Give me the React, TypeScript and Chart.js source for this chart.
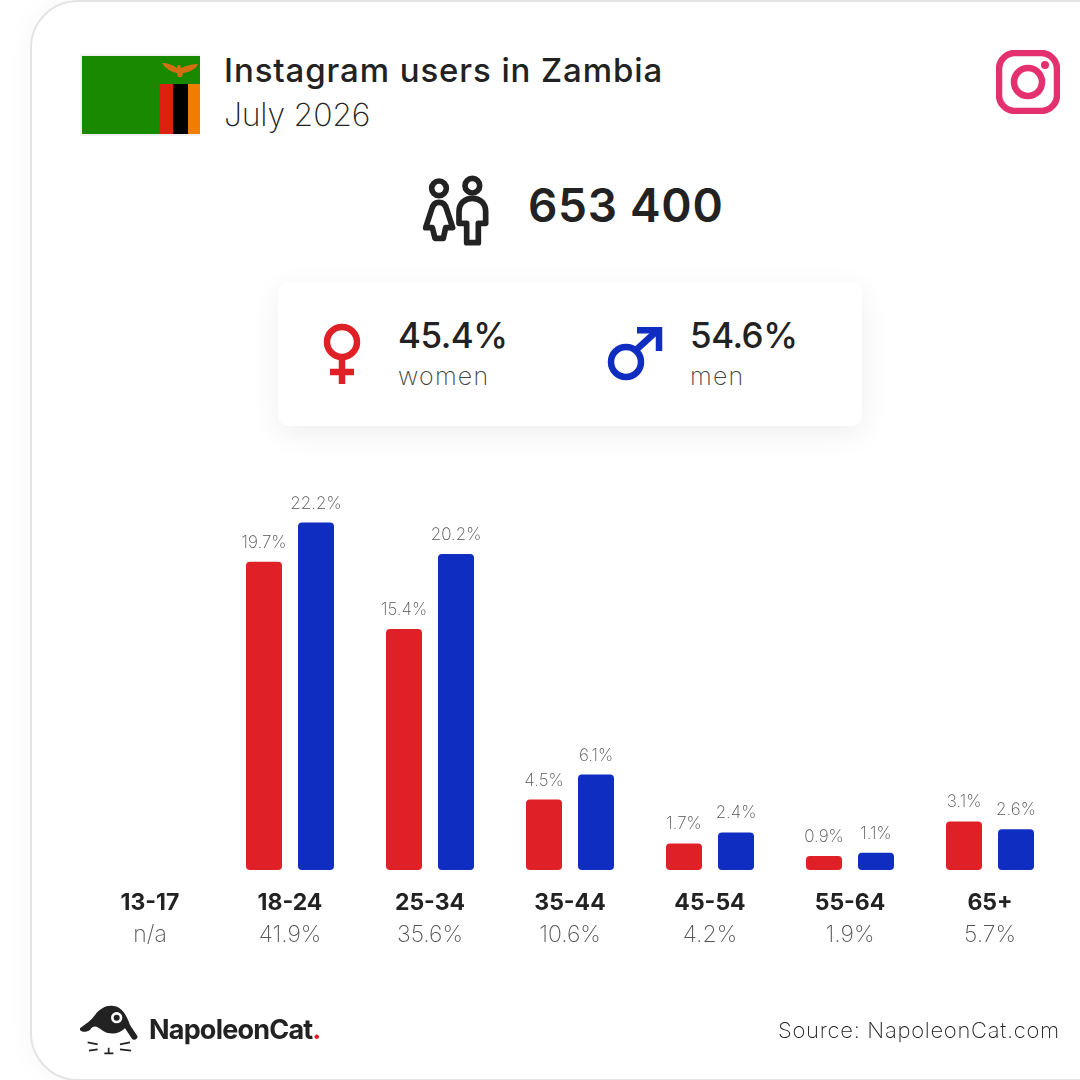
import React, { useEffect, useRef } from "react";
import { Chart, registerables } from "chart.js";

Chart.register(...registerables);

const categories = ["13-17", "18-24", "25-34", "35-44", "45-54", "55-64", "65+"];
const totals = ["n/a", "41.9%", "35.6%", "10.6%", "4.2%", "1.9%", "5.7%"];
const women = [null, 19.7, 15.4, 4.5, 1.7, 0.9, 3.1];
const men = [null, 22.2, 20.2, 6.1, 2.4, 1.1, 2.6];
const RED = "#df2027";
const BLUE = "#0f2dc0";
const DARK = "#222222";
const FONT = "Inter, 'Open Sans', sans-serif";

const labelPlugin = {
  id: "labels",
  afterDatasetsDraw(chart: any) {
    const { ctx, scales } = chart;
    ctx.save();
    ctx.textAlign = "center";
    ctx.textBaseline = "alphabetic";
    chart.data.datasets.forEach((ds: any, i: number) => {
      const meta = chart.getDatasetMeta(i);
      meta.data.forEach((bar: any, j: number) => {
        const v = ds.data[j];
        if (v == null) return;
        ctx.font = `200 17px ${FONT}`;
        ctx.fillStyle = "#555555";
        ctx.fillText(`${v.toFixed(1)}%`, bar.x, bar.y - 14);
      });
    });
    categories.forEach((c, i) => {
      const x = scales.x.getPixelForValue(i);
      ctx.font = `700 23px ${FONT}`;
      ctx.fillStyle = DARK;
      ctx.fillText(c, x, 910);
      ctx.font = `200 23px ${FONT}`;
      ctx.fillStyle = "#555555";
      ctx.fillText(totals[i], x, 942);
    });
    ctx.restore();
  },
};

function T({ x, y, size, weight, color = DARK, children, ls = 0 }: any) {
  return (
    <div
      style={{
        position: "absolute",
        left: x,
        top: y,
        fontFamily: FONT,
        fontSize: size,
        fontWeight: weight,
        color,
        lineHeight: 1,
        whiteSpace: "nowrap",
        letterSpacing: ls,
      }}
    >
      {children}
    </div>
  );
}

export default function App() {
  const ref = useRef<HTMLCanvasElement>(null);
  useEffect(() => {
    const chart = new Chart(ref.current!, {
      type: "bar",
      data: {
        labels: categories,
        datasets: [
          { label: "women", data: women, backgroundColor: RED, borderRadius: 4, borderSkipped: false },
          { label: "men", data: men, backgroundColor: BLUE, borderRadius: 4, borderSkipped: false },
        ],
      } as any,
      options: {
        animation: false,
        responsive: false,
        devicePixelRatio: 1,
        layout: { padding: { left: 80, right: 20, top: 478, bottom: 210 } },
        plugins: { legend: { display: false }, tooltip: { enabled: false } },
        datasets: { bar: { barPercentage: 36 / 52, categoryPercentage: 104 / 140 } },
        scales: {
          x: { display: false },
          y: { display: false, min: 0, max: 25.05 },
        },
      } as any,
      plugins: [labelPlugin],
    });
    return () => chart.destroy();
  }, []);

  return (
    <div style={{ position: "fixed", left: 0, top: 0, width: 1080, height: 1080, background: "#fff", overflow: "hidden" }}>
      <div
        style={{
          position: "absolute",
          left: 30,
          top: 0,
          width: 1100,
          height: 1077,
          border: "2px solid #e4e4e4",
          borderRadius: 48,
          boxSizing: "content-box",
          background: "#fff",
          boxShadow: "0 0 30px rgba(0,0,0,0.04)",
        }}
      />
      <svg style={{ position: "absolute", left: 80, top: 54 }} width={120} height={82} viewBox="80 54 120 82">
        <rect x={80} y={54} width={120} height={82} fill="#f1f1f1" />
        <rect x={82} y={56} width={118} height={78} fill="#198a00" />
        <rect x={159} y={84} width={14} height={50} fill="#de2010" />
        <rect x={173} y={84} width={15} height={50} fill="#000" />
        <rect x={188} y={84} width={12} height={50} fill="#ef7d00" />
        <path d="M162 63 C168 63 173 65 177 68 L178 65 L180 65 L181 68 C186 66 192 64 198 64 C196 69 190 72 183 73 L182 77 L178 77 L177 73 C171 72 165 68 162 63Z" fill="#d56e10" />
      </svg>
      <T x={224} y={54} size={33} weight={500} ls={0.9}>Instagram users in Zambia</T>
      <T x={224} y={99} size={32} weight={200} color="#222" ls={-0.2}>July 2026</T>

      <svg style={{ position: "absolute", left: 996, top: 50 }} width={64} height={64} viewBox="0 0 64 64" fill="none" stroke="#e4306f" strokeWidth={6.5}>
        <rect x={3} y={3} width={58} height={58} rx={16} />
        <circle cx={32} cy={32} r={14} />
        <circle cx={49} cy={15} r={4} fill="#e4306f" stroke="none" />
      </svg>

      <svg style={{ position: "absolute", left: 415, top: 170 }} width={80} height={80} viewBox="0 0 240 240" fill="none" stroke={DARK} strokeWidth={17} strokeLinejoin="round">
        <circle cx={72} cy={55} r={22} />
        <circle cx={172} cy={47} r={22} />
        <path d="M72 97 C85 97 92 105 95 118 L113 173 L92 173 L85 205 L60 205 L52 173 L32 173 L50 118 C53 105 60 97 72 97Z" />
        <path d="M172 85 C195 85 212 100 212 125 L212 160 L190 160 L190 218 L155 218 L155 160 L132 160 L132 125 C132 100 150 85 172 85Z" />
      </svg>
      <T x={528} y={182} size={46} weight={600} ls={0.7}>653 400</T>

      <div
        style={{
          position: "absolute",
          left: 278,
          top: 282,
          width: 584,
          height: 144,
          borderRadius: 10,
          background: "#fff",
          boxShadow: "0 8px 30px rgba(0,0,0,0.07)",
        }}
      />
      <svg style={{ position: "absolute", left: 310, top: 315 }} width={60} height={75} viewBox="310 315 60 75" fill="none" stroke={RED} strokeWidth={6.5}>
        <circle cx={342} cy={342} r={15} />
        <path d="M342 357 L342 384 M330 372 L354 372" />
      </svg>
      <svg style={{ position: "absolute", left: 600, top: 320 }} width={70} height={65} viewBox="600 320 70 65" fill="none" stroke={BLUE} strokeWidth={6.5}>
        <circle cx={626} cy={362} r={15} />
        <path d="M636 350 L658 330" />
        <path d="M637 330.3 L659 330.3 L659 351" strokeLinejoin="miter" />
      </svg>
      <T x={398} y={318} size={35} weight={500} ls={-0.5}>45.4%</T>
      <T x={398} y={364} size={25} weight={200} color="#444" ls={1.2}>women</T>
      <T x={690} y={318} size={35} weight={500} ls={-0.5}>54.6%</T>
      <T x={690} y={364} size={25} weight={200} color="#444" ls={1.2}>men</T>

      <canvas ref={ref} width={1080} height={1080} style={{ position: "absolute", left: 0, top: 0 }} />

      <svg style={{ position: "absolute", left: 75, top: 1000 }} width={75} height={60} viewBox="0 0 225 180">
        <path d="M15 85 C35 70 50 60 60 45 C75 25 95 15 115 18 C140 20 155 45 165 75 L187 108 C190 115 180 122 172 118 L150 85 C130 105 100 105 80 90 C65 78 55 75 45 90 C35 97 20 97 15 90Z" fill={DARK} />
        <circle cx={125} cy={53} r={17} fill="#fff" />
        <circle cx={125} cy={53} r={9} fill={DARK} />
        <path d="M38 127 L68 133 M42 152 L68 148 M135 133 L165 127 M135 148 L168 152 M88 160 L115 160 M101 143 L101 160" stroke={DARK} strokeWidth={5} fill="none" />
      </svg>
      <T x={149} y={1016} size={27} weight={700} ls={-0.8}>
        NapoleonCat<span style={{ color: RED }}>.</span>
      </T>
      <T x={778} y={1019} size={22} weight={200} color="#222" ls={0.72}>Source: NapoleonCat.com</T>
    </div>
  );
}
